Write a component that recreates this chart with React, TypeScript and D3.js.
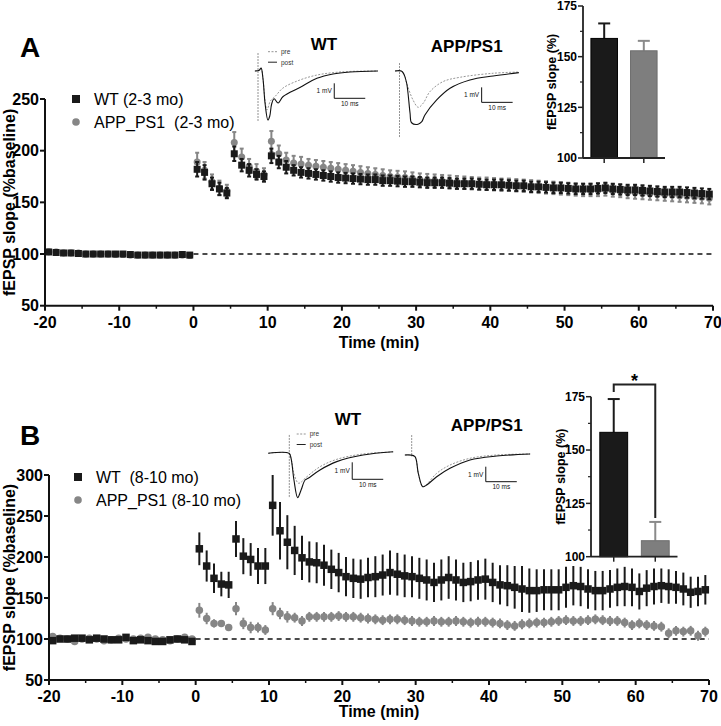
import * as d3 from "d3";

const FONT = "'Liberation Sans', Arial, Helvetica, sans-serif";
const BLACK = "#1a1a1a";
const GREY = "#868686";

// sampling times (min) shared by all four time-course series
const timeMin = [
  -19.5, -18.5, -17.5, -16.5, -15.5, -14.5, -13.5, -12.5, -11.5, -10.5,
  -9.5, -8.5, -7.5, -6.5, -5.5, -4.5, -3.5, -2.5, -1.5, -0.5,
  0.5, 1.5, 2.5, 3.5, 4.5, 5.5, 6.5, 7.5, 8.5, 9.5,
  10.5, 11.5, 12.5, 13.5, 14.5, 15.5, 16.5, 17.5, 18.5, 19.5,
  20.5, 21.5, 22.5, 23.5, 24.5, 25.5, 26.5, 27.5, 28.5, 29.5,
  30.5, 31.5, 32.5, 33.5, 34.5, 35.5, 36.5, 37.5, 38.5, 39.5,
  40.5, 41.5, 42.5, 43.5, 44.5, 45.5, 46.5, 47.5, 48.5, 49.5,
  50.5, 51.5, 52.5, 53.5, 54.5, 55.5, 56.5, 57.5, 58.5, 59.5,
  60.5, 61.5, 62.5, 63.5, 64.5, 65.5, 66.5, 67.5, 68.5, 69.5,
];

// panel A (2-3 mo), fEPSP slope % baseline
const wtA = [
  102, 101.5, 101, 101, 100.5, 100, 100, 100, 100, 100, 100, 99.5, 99, 99, 99, 99, 99, 99, 99.5, 99,
  182, 179, 168, 163, 159,
  197, 186, 181, 177, 175,
  195, 189, 184, 181, 179, 178, 177, 176, 175, 174,
  173.5, 173, 172.5, 172, 172, 171, 171, 170.5, 170, 170,
  169.5, 169, 169, 169, 168.5, 168, 168, 168, 167.5, 167,
  167, 167, 166.5, 166, 166, 165, 165, 164.5, 164, 164,
  163.5, 163, 163, 163, 163.5, 164, 163, 162.5, 162, 162,
  161.5, 161, 160.5, 160, 160, 160, 159.5, 159, 158.5, 158,
];
const wtAErr = [
  2, 2, 2, 2, 2, 2, 2, 2, 2, 2, 2, 2, 2, 2, 2, 2, 2, 2, 2, 2,
  7, 7, 6, 6, 5,
  7, 6, 6, 5, 5,
  7, 6, 6, 5, 5, 5, 5, 5, 5, 5,
  5, 5, 5, 5, 5, 5, 5, 5, 5, 5,
  5, 5, 5, 5, 5, 5, 5, 5, 5, 5,
  5, 5, 5, 5, 5, 5, 5, 5, 5, 5,
  5, 5, 5, 5, 5, 5, 5, 5, 5, 5,
  5, 5, 5, 5, 5, 5, 5, 5, 5, 5,
];
const appA = [
  102, 102, 101, 101, 101, 100, 100, 100, 100, 99.5, 99.5, 99, 99, 99, 99, 99, 99, 99, 99, 98.5,
  189, 181, 170, 164, 161,
  208, 194, 185, 180, 177,
  209, 197, 191, 188, 187, 186, 185, 184, 183, 182,
  181, 180, 179, 178, 177, 176, 175, 174.5, 174, 173,
  172, 171.5, 171, 170.5, 170, 169.5, 169, 168.5, 168, 168,
  167.5, 167, 167, 166.5, 166, 165.5, 165, 164.5, 164, 163.5,
  163, 162.5, 162, 162, 162, 162.5, 161.5, 161, 160, 159.5,
  159, 158.5, 158, 157.5, 157, 156.5, 156, 155.5, 155, 154,
];
const appAErr = [
  2, 2, 2, 2, 2, 2, 2, 2, 2, 2, 2, 2, 2, 2, 2, 2, 2, 2, 2, 2,
  9, 8, 7, 7, 6,
  10, 8, 7, 7, 6,
  10, 8, 7, 7, 7, 6, 6, 6, 6, 6,
  6, 6, 6, 6, 6, 6, 6, 6, 6, 6,
  6, 6, 6, 6, 6, 6, 6, 6, 6, 6,
  6, 6, 6, 6, 6, 6, 6, 6, 6, 6,
  6, 6, 6, 6, 6, 6, 6, 6, 6, 6,
  6, 6, 6, 6, 6, 6, 6, 6, 6, 6,
];

// panel B (8-10 mo)
const wtB = [
  98, 100, 100, 101, 101, 99, 101, 100, 99, 99, 102, 98, 99, 98, 97, 97, 99, 100, 99, 97,
  210, 189, 174, 167, 166,
  222, 201, 197, 189, 189,
  263, 232, 218, 208, 199, 194, 193, 190, 185, 181,
  176, 174, 173, 175, 176, 178, 181, 179, 177, 176,
  174, 172, 169, 172, 175, 172, 169, 170, 172, 173,
  169, 166, 165, 163, 161, 159, 159, 160, 160, 160,
  163, 165, 164, 161, 159, 159, 161, 163, 164, 163,
  158, 162, 164, 165, 164, 163, 161, 157, 158, 160,
];
const wtBErr = [
  3, 3, 3, 3, 3, 3, 3, 3, 3, 3, 3, 3, 3, 3, 3, 3, 3, 3, 3, 3,
  20, 19, 18, 15, 16,
  22, 22, 20, 22, 22,
  37, 35, 33, 30, 27, 25, 25, 25, 24, 24,
  24, 24, 24, 24, 25, 25, 27, 26, 26, 25,
  25, 25, 24, 25, 26, 25, 24, 24, 24, 25,
  24, 24, 25, 26, 28, 27, 26, 25, 25, 25,
  25, 24, 24, 24, 24, 24, 23, 23, 24, 23,
  22, 22, 22, 21, 21, 20, 20, 19, 18, 18,
];
const appB = [
  103, 101, 100, 97, 100, 101, 100, 98, 99, 101, 100, 100, 101, 102, 100, 99, 98, 100, 102, 100,
  135, 125, 119, 119, 114,
  137, 119, 114, 114, 111,
  137, 131, 127, 126, 122, 127, 127, 127, 127, 128,
  127, 127, 126, 125, 124, 123, 124, 124, 123, 122,
  121, 121, 122, 121, 121, 122, 121, 120, 121, 121,
  120, 119, 117, 116, 118, 119, 120, 120, 121, 122,
  123, 122, 122, 123, 124, 123, 122, 122, 120, 117,
  119, 117, 116, 115, 107, 110, 109, 110, 104, 109,
];
const appBErr = [
  2, 2, 2, 2, 2, 2, 2, 2, 2, 2, 2, 2, 2, 2, 2, 2, 2, 2, 2, 2,
  9, 7, 5, 4, 4,
  8, 7, 7, 6, 6,
  8, 7, 7, 6, 6, 6, 6, 6, 6, 6,
  6, 6, 6, 6, 6, 6, 6, 6, 6, 6,
  6, 6, 6, 6, 6, 6, 6, 6, 6, 6,
  6, 6, 6, 6, 6, 6, 6, 6, 6, 6,
  6, 6, 6, 6, 6, 6, 6, 6, 6, 6,
  6, 6, 6, 6, 6, 6, 6, 6, 6, 6,
];

const xTicks = [-20, -10, 0, 10, 20, 30, 40, 50, 60, 70];
const xMinorTicks = [-15, -5, 5, 15, 25, 35, 45, 55, 65];
const yTicksA = [50, 100, 150, 200, 250];
const yTicksB = [50, 100, 150, 200, 250, 300];

// bar insets: mean fEPSP slope (%) and SEM
const barGroups = ["WT", "APP/PS1"];
const barMeanA = [159, 152.9];
const barErrA = [7.4, 4.9];
const barMeanB = [158.3, 107.5];
const barErrB = [15.6, 8.8];
const barTicks = [100, 125, 150, 175];
const barMinorTicks = [112.5, 137.5, 162.5];

// example traces: [ms, mV]
type Pt = [number, number];
const traceWtAPost: Pt[] = [[-1, 0], [0.4, 0.05], [1, 0.2], [1.6, -0.5], [2.3, -2.2], [3.2, -3.27], [3.8, -3.0], [4.4, -2.2], [5.2, -1.85], [6.5, -2.13], [8.1, -1.7], [13.5, -1.1], [19, -0.49], [24.2, -0.2], [29.7, -0.07], [38.7, 0]];
const traceWtAPre: Pt[] = [[-1, 0], [0.4, 0.05], [1, 0.2], [1.6, -0.5], [2.3, -2.0], [2.9, -2.6], [4.0, -2.0], [5.5, -1.7], [8.1, -1.13], [13.5, -0.6], [19, -0.27], [24.2, -0.11], [29.7, -0.03], [38.7, 0]];
const traceAppAPost: Pt[] = [[-1.45, 0], [0.6, 0], [1.4, -0.2], [2.3, -0.8], [3.4, -2.8], [3.9, -3.45], [6.0, -3.55], [7.2, -3.38], [8.2, -2.93], [12.0, -1.93], [16.3, -1.15], [22.7, -0.6], [30.2, -0.33], [38.5, -0.11]];
const traceAppAPre: Pt[] = [[-1.45, 0], [0.6, 0], [1.4, -0.2], [2.3, -0.8], [4.35, -1.93], [6.06, -2.42], [7.7, -2.13], [9.8, -1.38], [14.0, -0.71], [19.5, -0.42], [30.2, -0.15], [38.5, -0.07]];
const traceWtBPost: Pt[] = [[-6.8, 0], [-0.1, 0], [0.55, -0.28], [1.5, -1.57], [2.7, -2.61], [3.8, -2.16], [5.1, -1.57], [6.1, -1.47], [9.9, -0.98], [15.3, -0.49], [23.8, -0.1], [33.5, 0.09]];
const traceWtBPre: Pt[] = [[-6.8, 0], [-0.1, 0], [0.55, -0.28], [1.5, -1.2], [2.9, -1.76], [3.8, -1.7], [5.1, -1.47], [9.9, -0.79], [15.4, -0.35], [23.8, -0.04], [33.5, 0.08]];
const traceAppBPost: Pt[] = [[-2.2, 0], [-0.55, 0], [1.06, -0.11], [2.13, -1.22], [3.55, -2.11], [4.84, -2.0], [8.06, -1.45], [12.35, -0.89], [18.8, -0.33], [27.4, -0.07], [38.2, 0.07]];
const traceAppBPre: Pt[] = [[-2.2, 0], [-0.55, 0], [1.06, -0.11], [2.13, -1.22], [3.55, -2.11], [4.84, -1.95], [8.06, -1.22], [12.35, -0.67], [18.8, -0.22], [27.4, 0], [38.2, 0.07]];

interface InsetCfg {
  origin: [number, number];
  pxMs: number;
  pxMv: number;
  post: Pt[];
  pre: Pt[];
  artifact: [number, number];
  bar: Pt;
  legend?: [number, number];
}

function TraceInset({ c }: { c: InsetCfg }) {
  const x = d3.scaleLinear().domain([0, 1]).range([c.origin[0], c.origin[0] + c.pxMs]);
  const y = d3.scaleLinear().domain([0, 1]).range([c.origin[1], c.origin[1] - c.pxMv]);
  const line = d3
    .line<Pt>()
    .x((d) => x(d[0]))
    .y((d) => y(d[1]))
    .curve(d3.curveCatmullRom.alpha(0.5));
  const [bx, by] = c.bar;
  return (
    <g fontFamily={FONT}>
      <line x1={x(0)} x2={x(0)} y1={y(c.artifact[0])} y2={y(c.artifact[1])} stroke="#777" strokeWidth={0.8} strokeDasharray="2,1" />
      <path d={line(c.pre) ?? ""} fill="none" stroke="#8a8a8a" strokeWidth={0.9} strokeDasharray="2,1.5" />
      <path d={line(c.post) ?? ""} fill="none" stroke="#111" strokeWidth={1.1} />
      <path d={`M${x(bx)},${y(by + 1)}V${y(by)}H${x(bx + 10)}`} fill="none" stroke="#111" strokeWidth={1} />
      <text x={x(bx) - 2.5} y={y(by + 0.5) + 2.3} fontSize={6.5} textAnchor="end" fill="#111">1 mV</text>
      <text x={x(bx + 5)} y={y(by) + 7.5} fontSize={6.5} textAnchor="middle" fill="#111">10 ms</text>
      {c.legend && (
        <g fontSize={6.5} fill="#333">
          <line x1={c.legend[0]} x2={c.legend[0] + 9} y1={c.legend[1]} y2={c.legend[1]} stroke="#888" strokeWidth={0.9} strokeDasharray="2,1.5" />
          <line x1={c.legend[0]} x2={c.legend[0] + 9} y1={c.legend[1] + 10.5} y2={c.legend[1] + 10.5} stroke="#222" strokeWidth={1} />
          <text x={c.legend[0] + 13} y={c.legend[1] + 2.3}>pre</text>
          <text x={c.legend[0] + 13} y={c.legend[1] + 12.8}>post</text>
        </g>
      )}
    </g>
  );
}

interface BarCfg {
  mean: number[];
  err: number[];
  axisX: number;
  yRange: [number, number];
  bandRange: [number, number];
  labelX: number;
  bracket?: boolean;
}

function BarInset({ c }: { c: BarCfg }) {
  const y = d3.scaleLinear().domain([100, 175]).range(c.yRange);
  const x = d3.scaleBand<string>().domain(barGroups).range(c.bandRange).paddingInner(0.33).paddingOuter(0.2);
  const bw = x.bandwidth();
  const colors = [BLACK, "#7e7e7e"];
  const errColors = ["#1a1a1a", "#8a8a8a"];
  const cx = (g: string) => (x(g) ?? 0) + bw / 2;
  const yMid = (c.yRange[0] + c.yRange[1]) / 2;
  return (
    <g fontFamily={FONT}>
      {barGroups.map((g, i) => (
        <g key={g}>
          <line x1={cx(g)} x2={cx(g)} y1={y(c.mean[i])} y2={y(c.mean[i] + c.err[i])} stroke={errColors[i]} strokeWidth={2} />
          <line x1={cx(g) - 6} x2={cx(g) + 6} y1={y(c.mean[i] + c.err[i])} y2={y(c.mean[i] + c.err[i])} stroke={errColors[i]} strokeWidth={2} />
          <rect x={x(g)} y={y(c.mean[i])} width={bw} height={y(100) - y(c.mean[i])} fill={colors[i]} stroke={i === 0 ? "#000" : "#6e6e6e"} strokeWidth={1} />
          <line x1={cx(g)} x2={cx(g)} y1={y(100)} y2={y(100) + 5} stroke="#222" strokeWidth={1.5} />
        </g>
      ))}
      <line x1={c.axisX} x2={c.bandRange[1]} y1={y(100)} y2={y(100)} stroke="#222" strokeWidth={1.8} />
      <line x1={c.axisX} x2={c.axisX} y1={y(175)} y2={y(100)} stroke="#222" strokeWidth={1.8} />
      {barTicks.map((t) => (
        <g key={t}>
          <line x1={c.axisX - 5} x2={c.axisX} y1={y(t)} y2={y(t)} stroke="#222" strokeWidth={1.5} />
          <text x={c.axisX - 6} y={y(t) + 4.3} fontSize={12} fontWeight="bold" textAnchor="end">{t}</text>
        </g>
      ))}
      {barMinorTicks.map((t) => (
        <line key={t} x1={c.axisX - 3} x2={c.axisX} y1={y(t)} y2={y(t)} stroke="#222" strokeWidth={1.2} />
      ))}
      <text transform={`translate(${c.labelX},${yMid}) rotate(-90)`} fontSize={12.5} fontWeight="bold" textAnchor="middle">fEPSP slope (%)</text>
      {c.bracket && (
        <g>
          <path
            d={`M${cx(barGroups[0])},${y(c.mean[0] + c.err[0]) - 7}V${y(c.mean[0] + c.err[0]) - 14.5}H${cx(barGroups[1])}V${y(c.mean[1] + c.err[1]) - 4}`}
            fill="none"
            stroke="#222"
            strokeWidth={2}
          />
          <text x={(cx(barGroups[0]) + cx(barGroups[1])) / 2} y={y(c.mean[0] + c.err[0]) - 12.5} fontSize={18} fontWeight="bold" textAnchor="middle">*</text>
        </g>
      )}
    </g>
  );
}

interface PanelCfg {
  xRange: [number, number];
  yDomain: [number, number];
  yRange: [number, number];
  yTicks: number[];
  wt: number[];
  wtErr: number[];
  app: number[];
  appErr: number[];
  letter: string;
  letterY: number;
  legend: { x: number; y: number; labels: [string, string] };
  marker: number;
  caps: boolean;
  xTitleY: number;
}

function MainPanel({ c }: { c: PanelCfg }) {
  const x = d3.scaleLinear().domain([-20, 70]).range(c.xRange);
  const y = d3.scaleLinear().domain(c.yDomain).range(c.yRange);
  const yBase = c.yRange[0];
  const xAxis = c.xRange[0];
  const m = c.marker;
  const errBars = (vals: number[], errs: number[], color: string) =>
    timeMin.map((t, i) => (
      <g key={i} stroke={color} strokeWidth={2}>
        <line x1={x(t)} x2={x(t)} y1={y(vals[i] - errs[i])} y2={y(vals[i] + errs[i])} />
        {c.caps && (
          <>
            <line x1={x(t) - 2} x2={x(t) + 2} y1={y(vals[i] + errs[i])} y2={y(vals[i] + errs[i])} />
            <line x1={x(t) - 2} x2={x(t) + 2} y1={y(vals[i] - errs[i])} y2={y(vals[i] - errs[i])} />
          </>
        )}
      </g>
    ));
  return (
    <g fontFamily={FONT}>
      <text x={20} y={c.letterY} fontSize={28} fontWeight="bold">{c.letter}</text>
      {/* reference line at 100 % */}
      <line x1={x(0)} x2={x(70)} y1={y(100)} y2={y(100)} stroke="#111" strokeWidth={1.6} strokeDasharray="5,4" />
      {/* APP/PS1 */}
      <g>{errBars(c.app, c.appErr, GREY)}</g>
      <g fill={GREY}>
        {timeMin.map((t, i) => (
          <circle key={i} cx={x(t)} cy={y(c.app[i])} r={m / 2} />
        ))}
      </g>
      {/* WT */}
      <g>{errBars(c.wt, c.wtErr, BLACK)}</g>
      <g fill={BLACK}>
        {timeMin.map((t, i) => (
          <rect key={i} x={x(t) - m / 2} y={y(c.wt[i]) - m / 2} width={m} height={m} />
        ))}
      </g>
      {/* axes */}
      <line x1={xAxis} x2={c.xRange[1]} y1={yBase} y2={yBase} stroke="#111" strokeWidth={2} />
      <line x1={xAxis} x2={xAxis} y1={y(c.yDomain[1])} y2={yBase} stroke="#111" strokeWidth={2} />
      {xTicks.map((t) => (
        <g key={t}>
          <line x1={x(t)} x2={x(t)} y1={yBase} y2={yBase + 5} stroke="#111" strokeWidth={2} />
          <text x={x(t)} y={yBase + 22} fontSize={16} fontWeight="bold" textAnchor="middle">{t}</text>
        </g>
      ))}
      {xMinorTicks.map((t) => (
        <line key={t} x1={x(t)} x2={x(t)} y1={yBase} y2={yBase + 3} stroke="#111" strokeWidth={1.5} />
      ))}
      {c.yTicks.map((t) => (
        <g key={t}>
          <line x1={xAxis - 5} x2={xAxis} y1={y(t)} y2={y(t)} stroke="#111" strokeWidth={2} />
          <text x={xAxis - 6} y={y(t) + 5.7} fontSize={16} fontWeight="bold" textAnchor="end">{t}</text>
        </g>
      ))}
      <text x={(c.xRange[0] + c.xRange[1]) / 2} y={c.xTitleY} fontSize={16} fontWeight="bold" textAnchor="middle">Time (min)</text>
      <text transform={`translate(15,${(c.yRange[0] + c.yRange[1]) / 2}) rotate(-90)`} fontSize={16} fontWeight="bold" textAnchor="middle">fEPSP slope (%baseline)</text>
      {/* legend */}
      <g fontSize={16}>
        <rect x={c.legend.x - 4} y={c.legend.y - 4} width={8} height={8} fill={BLACK} />
        <circle cx={c.legend.x} cy={c.legend.y + 23} r={3.8} fill={GREY} />
        <text x={c.legend.x + 18} y={c.legend.y + 5.7} style={{ whiteSpace: "pre" }}>{c.legend.labels[0]}</text>
        <text x={c.legend.x + 18} y={c.legend.y + 28.7} style={{ whiteSpace: "pre" }}>{c.legend.labels[1]}</text>
      </g>
    </g>
  );
}

const panelA: PanelCfg = {
  xRange: [45, 713],
  yDomain: [50, 250],
  yRange: [305.7, 99],
  yTicks: yTicksA,
  wt: wtA,
  wtErr: wtAErr,
  app: appA,
  appErr: appAErr,
  letter: "A",
  letterY: 57,
  legend: { x: 76, y: 99, labels: ["WT (2-3 mo)", "APP_PS1  (2-3 mo)"] },
  marker: 7,
  caps: true,
  xTitleY: 348,
};

const panelB: PanelCfg = {
  xRange: [49, 709],
  yDomain: [50, 300],
  yRange: [680, 475],
  yTicks: yTicksB,
  wt: wtB,
  wtErr: wtBErr,
  app: appB,
  appErr: appBErr,
  letter: "B",
  letterY: 445,
  legend: { x: 78, y: 477, labels: ["WT  (8-10 mo)", "APP_PS1 (8-10 mo)"] },
  marker: 7.5,
  caps: false,
  xTitleY: 717,
};

const insets: InsetCfg[] = [
  { origin: [258, 71], pxMs: 3.1, pxMv: 15, post: traceWtAPost, pre: traceWtAPre, artifact: [1.2, -3.4], bar: [24.6, -1.82], legend: [268, 51.7] },
  { origin: [399.5, 71], pxMs: 3.1, pxMv: 15, post: traceAppAPost, pre: traceAppAPre, artifact: [0.53, -4.47], bar: [26.5, -2.09] },
  { origin: [289.3, 453.3], pxMs: 3.1, pxMv: 17, post: traceWtBPost, pre: traceWtBPre, artifact: [1.08, -2.63], bar: [20.3, -1.53], legend: [296.7, 434] },
  { origin: [411.7, 455], pxMs: 3.1, pxMv: 15, post: traceAppBPost, pre: traceAppBPre, artifact: [1.33, -0.1], bar: [23.9, -1.78] },
];

const insetTitles: { text: string; x: number; y: number }[] = [
  { text: "WT", x: 324, y: 50 },
  { text: "APP/PS1", x: 466.7, y: 51.5 },
  { text: "WT", x: 348, y: 425 },
  { text: "APP/PS1", x: 486.7, y: 431 },
];

const barA: BarCfg = { mean: barMeanA, err: barErrA, axisX: 583, yRange: [158, 6], bandRange: [583, 665], labelX: 555.5 };
const barB: BarCfg = { mean: barMeanB, err: barErrB, axisX: 591, yRange: [556.7, 396.7], bandRange: [591.5, 677.5], labelX: 565, bracket: true };

export default function App() {
  return (
    <svg width={721} height={726} style={{ position: "absolute", left: 0, top: 0, background: "#fff" }}>
      <rect width={721} height={726} fill="#fff" />
      <MainPanel c={panelA} />
      <MainPanel c={panelB} />
      {insets.map((c, i) => (
        <TraceInset key={i} c={c} />
      ))}
      {insetTitles.map((t, i) => (
        <text key={i} x={t.x} y={t.y} fontFamily={FONT} fontSize={17} fontWeight="bold" textAnchor="middle">{t.text}</text>
      ))}
      <BarInset c={barA} />
      <BarInset c={barB} />
    </svg>
  );
}
